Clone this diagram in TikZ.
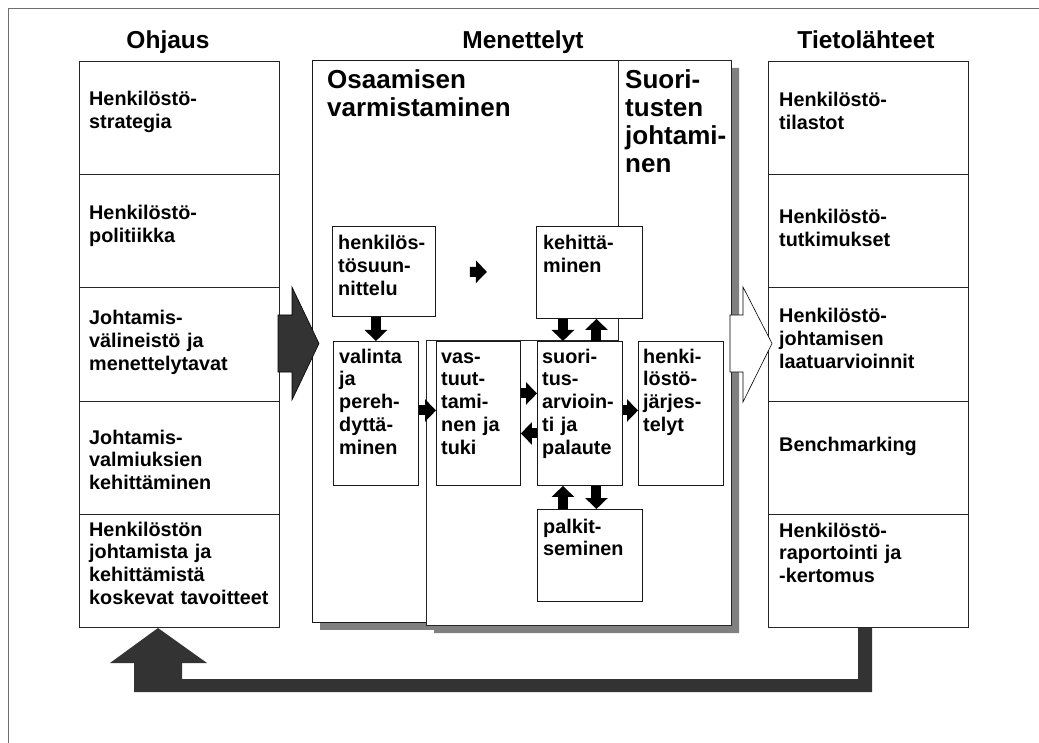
\documentclass[tikz,border=0pt]{standalone}
\usepackage{fontspec}
\setmainfont{Liberation Sans}
\usetikzlibrary{arrows.meta, positioning, calc}

\definecolor{darkfill}{HTML}{333333}
\definecolor{shadowgray}{HTML}{808080}
\definecolor{framegray}{HTML}{6E6E6E}

\begin{document}
\begin{tikzpicture}[
      x=1pt, y=-1pt,
      every node/.style={inner sep=0pt},
      colbox/.style={
         draw=black!85,
         line width=0.8pt,
         minimum width=200pt,
         minimum height=113.2pt,
         anchor=north west
      },
      smallbox/.style={
         draw=black!90,
         fill=white,
         line width=0.9pt,
         anchor=north west
      },
      txt/.style={
         anchor=base west,
         align=left,
         text width=240pt,
         font=\bfseries\fontsize{19.8}{22.8}\selectfont
      },
      titletxt/.style={
         anchor=base west,
         align=left,
         text width=240pt,
         font=\bfseries\fontsize{26}{27.8}\selectfont
      },
      hdr/.style={
         anchor=base,
         font=\bfseries\fontsize{24.5}{27}\selectfont
      },
      blk/.style={
         line width=10pt,
         -{Triangle[length=11pt, width=22pt]}
      }
   ]

   \useasboundingbox (0,0) rectangle (1039,743);

   % outer frame
   \draw[framegray, line width=1.3pt] (8.5,743) -- (8.5,8.5) -- (1039,8.5);

   % columns
   \foreach \i in {1,...,5} {
      \node[colbox] (ohj\i) at (79, {61+(\i-1)*113.2}) {};
      \node[colbox] (tie\i) at (768, {61+(\i-1)*113.2}) {};
   }

   \node[txt] (ohjt1) at (89,106) {Henkilöstö-\\strategia};
   \node[txt] (ohjt2) at (89,220) {Henkilöstö-\\politiikka};
   \node[txt] (ohjt3) at (89,325) {Johtamis-\\välineistö ja\\menettelytavat};
   \node[txt] (ohjt4) at (89,444) {Johtamis-\\valmiuksien\\kehittäminen};
   \node[txt] (ohjt5) at (89,536) {Henkilöstön\\johtamista ja\\kehittämistä\\koskevat tavoitteet};

   \node[txt] (tiet1) at (779,107) {Henkilöstö-\\tilastot};
   \node[txt] (tiet2) at (779,224) {Henkilöstö-\\tutkimukset};
   \node[txt] (tiet3) at (779,323) {Henkilöstö-\\johtamisen\\laatuarvioinnit};
   \node[txt] (tiet4) at (779,451) {Benchmarking};
   \node[txt] (tiet5) at (779,537) {Henkilöstö-\\raportointi ja\\-kertomus};

   % middle boxes with shadow
   \fill[shadowgray] (320,68) rectangle (626,630);
   \node[smallbox, line width=0.8pt, minimum width=306pt, minimum height=562pt] (osaa) at (312,60) {};
   \fill[shadowgray] (626,68) -- (739,68) -- (739,633) -- (434,633)
      -- (434,348) -- (626,348) -- cycle;
   \filldraw[fill=white, draw=black!85, line width=0.8pt] (618,60) -- (731,60)
      -- (731,625) -- (426,625) -- (426,340) -- (618,340) -- cycle;

   \node[titletxt] (osaat) at (327,89) {Osaamisen\\varmistaminen};
   \node[titletxt] (suoj) at (625,89) {Suori-\\tusten\\johtami-\\nen};

   % process boxes
   \node[smallbox, minimum width=103pt, minimum height=90pt] (suun) at (332,226) {};
   \node[smallbox, minimum width=106pt, minimum height=92pt] (keh) at (536,226) {};
   \node[smallbox, minimum width=85pt, minimum height=144pt] (val) at (333,341) {};
   \node[smallbox, minimum width=84pt, minimum height=144pt] (vast) at (436,341) {};
   \node[smallbox, minimum width=85pt, minimum height=144pt] (suor) at (537,341) {};
   \node[smallbox, minimum width=85pt, minimum height=144pt] (jarj) at (638,341) {};
   \node[smallbox, minimum width=105pt, minimum height=92pt] (palk) at (537,509) {};

   \node[txt] at (338,250) {henkilös-\\tösuun-\\nittelu};
   \node[txt] at (543,250) {kehittä-\\minen};
   \node[txt] at (339,363) {valinta\\ja\\pereh-\\dyttä-\\minen};
   \node[txt] at (441,363) {vas-\\tuut-\\tami-\\nen ja\\tuki};
   \node[txt] at (542,363) {suori-\\tus-\\arvioin-\\ti ja\\palaute};
   \node[txt] at (643,363) {henki-\\löstö-\\järjes-\\telyt};
   \node[txt] at (543,533) {palkit-\\seminen};

   % small arrows
   \draw[blk] ($(suun.east)!0.34!(keh.west)$) -- ($(suun.east)!0.51!(keh.west)$);
   \draw[blk] (val.north |- suun.south) -- (val.north);
   \draw[blk] ([xshift=-17pt]suor.north |- keh.south) -- ([xshift=-17pt]suor.north);
   \draw[blk] ([xshift=16.5pt]suor.north) -- ([xshift=16.5pt]suor.north |- keh.south);
   \draw[blk] ([yshift=3pt]val.east) -- ([yshift=3pt]vast.west);
   \draw[blk] ([yshift=20pt]vast.east) -- ([yshift=20pt]suor.west);
   \draw[blk] ([yshift=-20pt]suor.west) -- ([yshift=-20pt]vast.east);
   \draw[blk] ([yshift=3pt]suor.east) -- ([yshift=3pt]jarj.west);
   \draw[blk] ([xshift=-17pt]suor.south |- palk.north) -- ([xshift=-17pt]suor.south);
   \draw[blk] ([xshift=16.5pt]suor.south) -- ([xshift=16.5pt]suor.south |- palk.north);

   % big arrows
   \filldraw[fill=darkfill, draw=black, line width=0.6pt] (278,315) -- (292,315) -- (292,287)
      -- (319,343.5) -- (292,400) -- (292,372) -- (278,372) -- cycle;
   \filldraw[fill=white, draw=black, line width=0.6pt] (730,315) -- (743,315) -- (743,287)
      -- (772,343.5) -- (743,402) -- (743,372) -- (730,372) -- cycle;

   % feedback
   \fill[darkfill] (858,628) -- (872,628) -- (872,692) -- (134,692) -- (134,663)
      -- (110,663) -- (158,628) -- (207,663) -- (182,663) -- (182,679)
      -- (858,679) -- cycle;

   % headings
   \node[hdr] (ohjh) at (168,49) {Ohjaus};
   \node[hdr] (menh) at (523,49) {Menettelyt};
   \node[hdr] (tieh) at (866,49) {Tietolähteet};

\end{tikzpicture}
\end{document}
